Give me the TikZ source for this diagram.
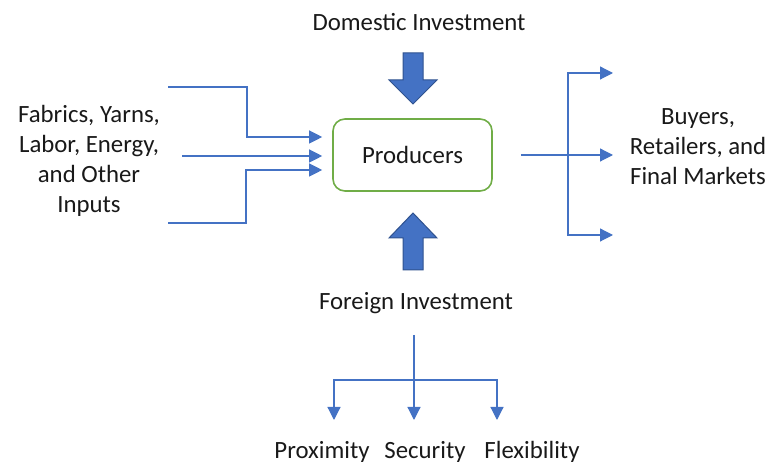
\documentclass[tikz,border=0pt]{standalone}
\usepackage{fontspec}
\setmainfont{Carlito}
\usetikzlibrary{arrows.meta}
\definecolor{flowblue}{HTML}{4472C4}
\definecolor{edgeblue}{HTML}{2F528F}
\definecolor{boxgreen}{HTML}{70AD47}
\tikzset{
	flow/.style={draw=flowblue,line width=0.6pt,-{Triangle[length=6.5pt,width=6.5pt]}},
	plain/.style={draw=flowblue,line width=0.6pt},
	lbl/.style={font=\fontsize{12.4}{15}\selectfont,align=center,text=black!90},
	bigarrow/.style={fill=flowblue,draw=edgeblue,line width=0.5pt,line join=miter}
}
\begin{document}
\begin{tikzpicture}[x=0.5pt,y=-0.5pt]
	\useasboundingbox (0,0) rectangle (778,464);
	% producers box and labels
	\node[lbl,draw=boxgreen,line width=0.8pt,rounded corners=6pt,minimum width=79.5pt,minimum height=36pt] (prod) at (412.5,155) {Producers};
	\node[lbl] (dom) at (419,22) {Domestic Investment};
	\node[lbl] (for) at (416,303) {Foreign Investment};
	\node[lbl] (inputs) at (89,161) {Fabrics, Yarns,\\Labor, Energy,\\and Other\\Inputs};
	\node[lbl] (markets) at (698,147) {Buyers,\\Retailers, and\\Final Markets};
	\node[lbl] (prox) at (322,452) {Proximity};
	\node[lbl] (sec) at (425,452) {Security};
	\node[lbl] (flex) at (532,452) {Flexibility};
	% block arrows
	\draw[bigarrow] (403,53) -- (423,53) -- (423,80) -- (437,80) -- (413,104) -- (389,80) -- (403,80) -- cycle;
	\draw[bigarrow] (413,213) -- (437,238) -- (423,238) -- (423,270) -- (403,270) -- (403,238) -- (389,238) -- cycle;
	% inputs
	\coordinate (in1) at (168,87);
	\coordinate (in2) at (182,156);
	\coordinate (in3) at (168,223);
	\draw[flow,shorten >=5pt] (in1) -- (247,87) |- ([yshift=9pt]prod.west);
	\draw[flow,shorten >=5pt] (in2) -- (in2 -| prod.west);
	\draw[flow,shorten >=5pt] (in3) -- (246,223) |- ([yshift=-7.5pt]prod.west);
	% outputs
	\coordinate (out1) at (613,73);
	\coordinate (out2) at (613,155);
	\coordinate (out3) at (613,235);
	\draw[flow,shorten <=14pt] (prod.east) -- (out2);
	\draw[flow] (568,155) |- (out1);
	\draw[flow] (568,155) |- (out3);
	% foreign investment split
	\coordinate (fork) at (414,380);
	\draw[plain] (414,335) -- (fork);
	\foreach \x/\n in {334/1,414/2,497/3}
	\coordinate (t\n) at (\x,420);
	\foreach \n in {1,2,3}
	\draw[flow] (fork) -| (t\n);
\end{tikzpicture}
\end{document}
